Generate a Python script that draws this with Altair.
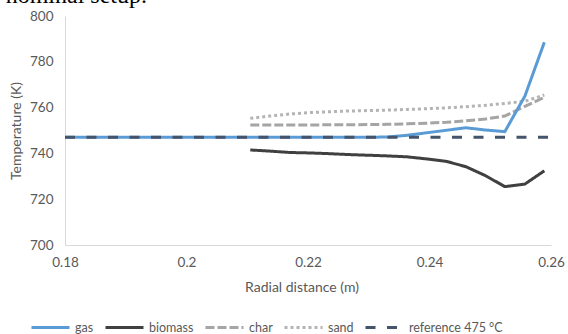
import altair as alt
import pandas as pd

# ---- data ----
series_names = ["gas", "biomass", "char", "sand", "reference 475 °C"]
series_colors = ["#5B9BD5", "#404040", "#A5A5A5", "#B4B4B4", "#44546A"]
series_dashes = [[1, 0], [1, 0], [9, 3], [3, 3], [10, 11.5]]

grid_x = [0.2105, 0.2137, 0.2170, 0.2202, 0.2234, 0.2266, 0.2299, 0.2331,
          0.2363, 0.2395, 0.2428, 0.2460, 0.2492, 0.2524, 0.2557, 0.2589]

gas_x = [0.18] + grid_x
gas_y = [747.0, 747.0, 747.0, 747.0, 747.0, 747.0, 747.0, 747.0, 747.2,
         747.9, 749.0, 750.1, 751.2, 750.2, 749.5, 765.0, 788.5]

biomass_y = [741.5, 741.0, 740.4, 740.2, 739.9, 739.5, 739.2, 738.9,
             738.5, 737.6, 736.5, 734.2, 730.3, 725.5, 726.6, 732.4]
char_y = [752.4, 752.4, 752.4, 752.4, 752.5, 752.5, 752.6, 752.7,
          752.9, 753.2, 753.6, 754.2, 755.0, 756.3, 760.5, 764.5]
sand_y = [755.3, 756.3, 757.2, 757.8, 758.2, 758.5, 758.7, 758.9,
          759.2, 759.5, 759.9, 760.4, 761.0, 761.8, 762.8, 765.5]

ref_x = [0.18, 0.26]
ref_y = [747.0, 747.0]

x_ticks = [0.18, 0.2, 0.22, 0.24, 0.26]
y_ticks = [700, 720, 740, 760, 780, 800]

caption_text = "nominal setup."

# ---- build table ----
rows = []
for x, y in zip(gas_x, gas_y):
    rows.append({"series": "gas", "x": x, "y": y})
for x, y in zip(grid_x, biomass_y):
    rows.append({"series": "biomass", "x": x, "y": y})
for x, y in zip(grid_x, char_y):
    rows.append({"series": "char", "x": x, "y": y})
for x, y in zip(grid_x, sand_y):
    rows.append({"series": "sand", "x": x, "y": y})
for x, y in zip(ref_x, ref_y):
    rows.append({"series": "reference 475 °C", "x": x, "y": y})
df = pd.DataFrame(rows)

FONT = "Lato"
TXT = "#595959"

x_enc = alt.X("x:Q", scale=alt.Scale(domain=[0.18, 0.26], nice=False, zero=False),
              axis=alt.Axis(values=x_ticks, format=".2~f", title="Radial distance (m)",
                            grid=False, ticks=False, labelFlush=False,
                            domainColor="#D9D9D9", domainWidth=1,
                            labelFont=FONT, labelFontSize=13.5, labelColor=TXT,
                            labelPadding=10,
                            titleFont=FONT, titleFontSize=14, titleColor=TXT,
                            titleFontWeight="normal",
                            titleX=236.5, titleY=42, titleBaseline="middle"))
y_enc = alt.Y("y:Q", scale=alt.Scale(domain=[700, 800], nice=False, zero=False),
              axis=alt.Axis(values=y_ticks, title="Temperature (K)",
                            grid=False, ticks=False,
                            domainColor="#D9D9D9", domainWidth=1,
                            labelFont=FONT, labelFontSize=13.5, labelColor=TXT,
                            labelPadding=12,
                            titleFont=FONT, titleFontSize=14, titleColor=TXT,
                            titleFontWeight="normal", titleAngle=-90,
                            titleX=-49, titleY=114.5, titleBaseline="middle",
                            titleAlign="center"))
color_enc = alt.Color("series:N",
                      scale=alt.Scale(domain=series_names, range=series_colors),
                      legend=alt.Legend(title=None, orient="none", direction="horizontal",
                                        legendX=-35, legendY=291,
                                        symbolType="stroke", symbolSize=1444,
                                        symbolStrokeWidth=3, labelOffset=4,
                                        columnPadding=5,
                                        labelFont=FONT, labelFontSize=12.5,
                                        labelColor=TXT))
dash_enc = alt.StrokeDash("series:N",
                          scale=alt.Scale(domain=series_names, range=series_dashes),
                          legend=None)

base = alt.Chart(df)
layers = []
for name in ["biomass", "char", "sand", "gas", "reference 475 °C"]:
    layers.append(
        base.transform_filter(alt.datum.series == name)
        .mark_line(strokeWidth=3, strokeCap="butt", strokeJoin="round")
        .encode(x=x_enc, y=y_enc, color=color_enc, strokeDash=dash_enc)
    )

caption = alt.Chart(pd.DataFrame({"t": [caption_text]})).mark_text(
    font="Liberation Serif", fontSize=24, align="right", baseline="alphabetic",
    color="black"
).encode(text="t:N", x=alt.value(82), y=alt.value(-13))

chart = alt.layer(*layers, caption).properties(
    width=486, height=229,
    padding={"left": 65, "top": 16, "right": 17, "bottom": 89},
    autosize=alt.AutoSizeParams(type="none"),
    background="white",
).configure_view(stroke=None)

chart.save("out.html", embed_options={"renderer": "svg", "actions": False})
